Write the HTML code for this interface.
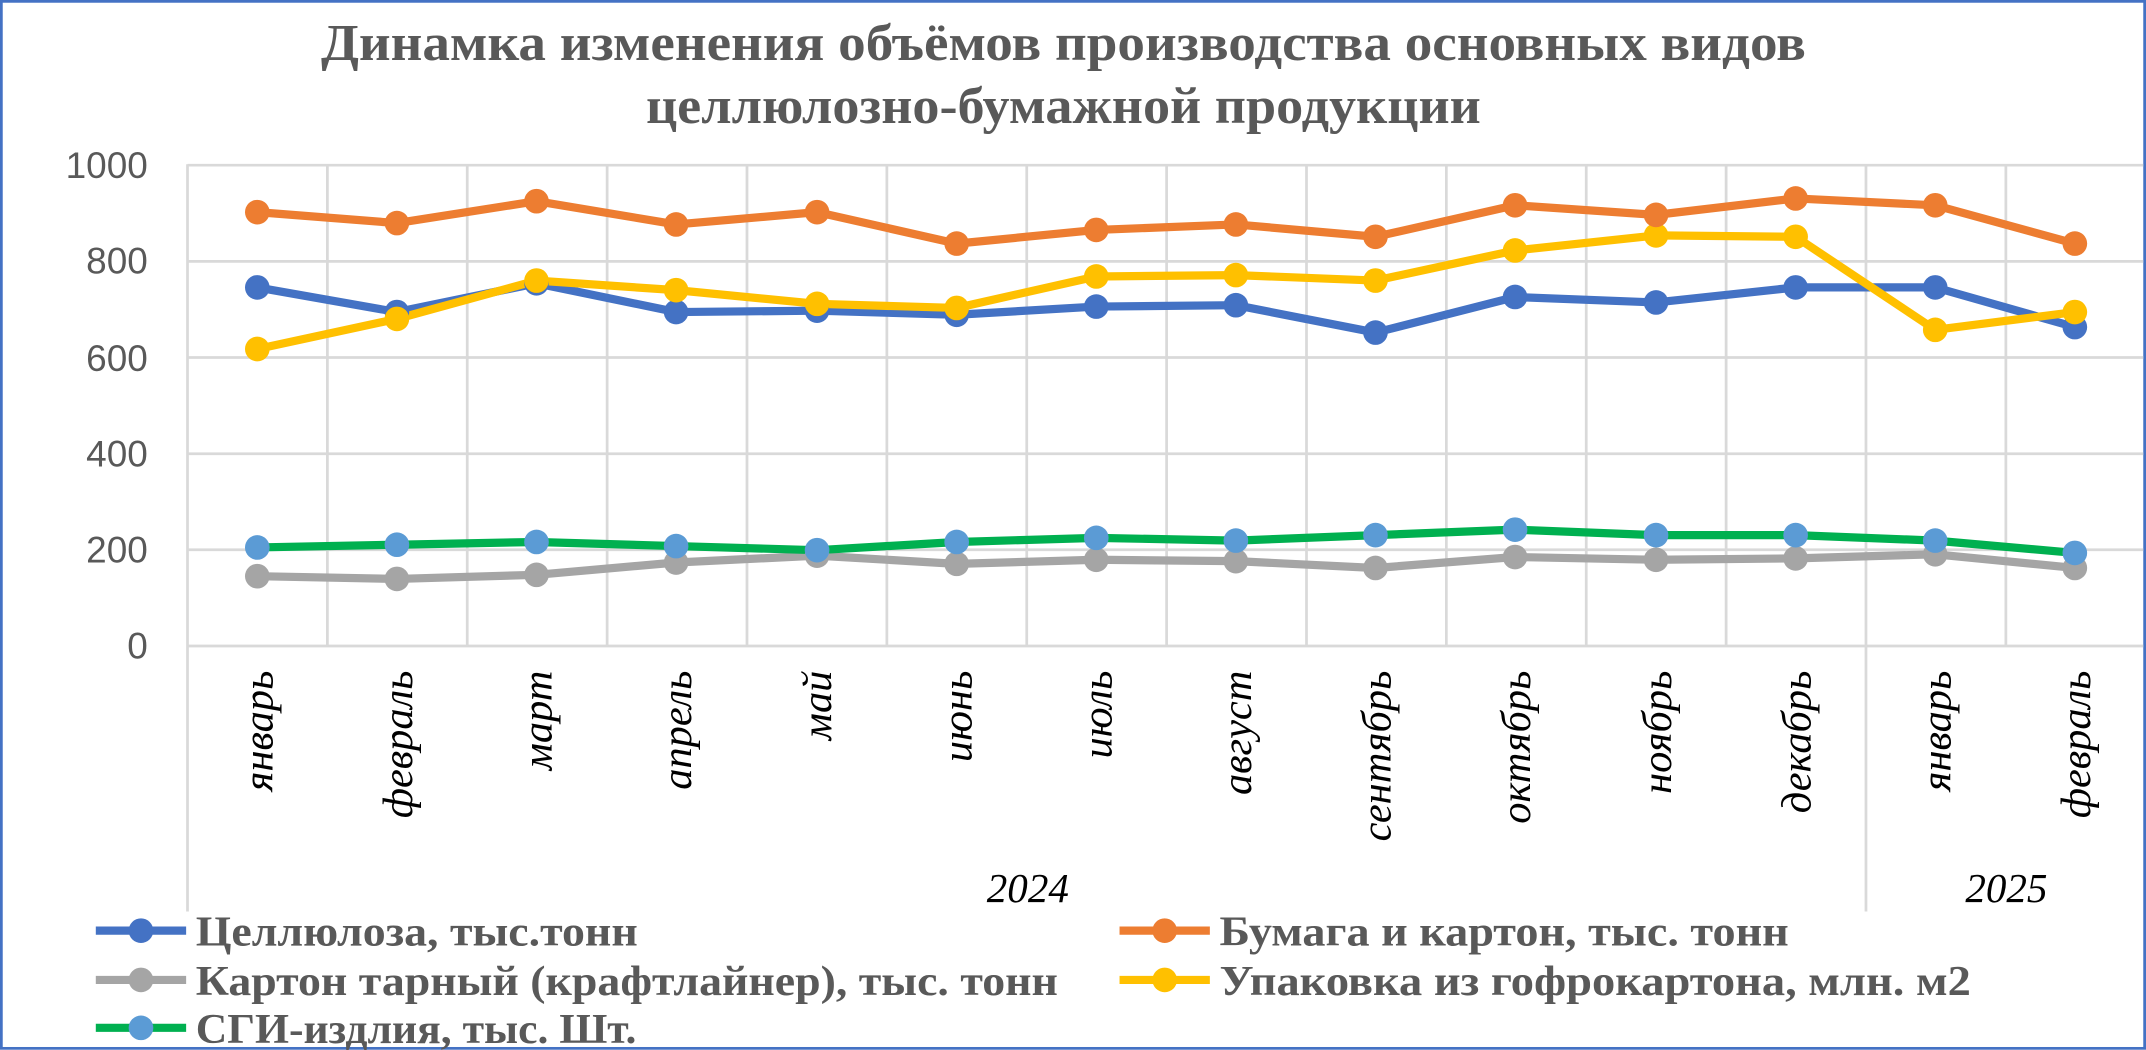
<!DOCTYPE html>
<html><head><meta charset="utf-8"><style>
html,body{margin:0;padding:0;background:#fff;}
svg{display:block;}
</style></head><body>
<svg width="2146" height="1050" viewBox="0 0 1568 767.2" preserveAspectRatio="none" xmlns="http://www.w3.org/2000/svg">
<rect x="1" y="1" width="1566" height="765" fill="#fff" stroke="#4472C4" stroke-width="2"/>
<g font-family="Liberation Serif, serif" font-weight="bold" font-size="38" fill="#595959" text-anchor="middle">
<text x="777" y="44" textLength="1085" lengthAdjust="spacingAndGlyphs">Динамка изменения объёмов производства основных видов</text>
<text x="777" y="90" textLength="610" lengthAdjust="spacingAndGlyphs">целлюлозно-бумажной продукции</text>
</g>
<g stroke="#d9d9d9" stroke-width="2">
<line x1="137" y1="120.7" x2="1566" y2="120.7"/>
<line x1="137" y1="191" x2="1566" y2="191"/>
<line x1="137" y1="261.2" x2="1566" y2="261.2"/>
<line x1="137" y1="331.5" x2="1566" y2="331.5"/>
<line x1="137" y1="401.7" x2="1566" y2="401.7"/>
<line x1="137" y1="472" x2="1566" y2="472"/>
<line x1="137" y1="120" x2="137" y2="666"/>
<line x1="239.2" y1="120" x2="239.2" y2="472"/>
<line x1="341.4" y1="120" x2="341.4" y2="472"/>
<line x1="443.6" y1="120" x2="443.6" y2="472"/>
<line x1="545.8" y1="120" x2="545.8" y2="472"/>
<line x1="648" y1="120" x2="648" y2="472"/>
<line x1="750.2" y1="120" x2="750.2" y2="472"/>
<line x1="852.4" y1="120" x2="852.4" y2="472"/>
<line x1="954.6" y1="120" x2="954.6" y2="472"/>
<line x1="1056.8" y1="120" x2="1056.8" y2="472"/>
<line x1="1159" y1="120" x2="1159" y2="472"/>
<line x1="1261.2" y1="120" x2="1261.2" y2="472"/>
<line x1="1363.4" y1="120" x2="1363.4" y2="666"/>
<line x1="1465.6" y1="120" x2="1465.6" y2="472"/>
</g>
<g font-family="Liberation Sans, sans-serif" font-size="27" fill="#595959" text-anchor="end">
<text x="108" y="130">1000</text>
<text x="108" y="200">800</text>
<text x="108" y="271">600</text>
<text x="108" y="341">400</text>
<text x="108" y="411">200</text>
<text x="108" y="481">0</text>
</g>
<g font-family="Liberation Serif, serif" font-style="italic" font-size="31" fill="#000" text-anchor="end">
<text transform="translate(199,490) rotate(-90)">январь</text>
<text transform="translate(301,490) rotate(-90)">февраль</text>
<text transform="translate(403,490) rotate(-90)">март</text>
<text transform="translate(505,490) rotate(-90)">апрель</text>
<text transform="translate(607,490) rotate(-90)">май</text>
<text transform="translate(710,490) rotate(-90)">июнь</text>
<text transform="translate(812,490) rotate(-90)">июль</text>
<text transform="translate(914,490) rotate(-90)">август</text>
<text transform="translate(1016,490) rotate(-90)">сентябрь</text>
<text transform="translate(1118,490) rotate(-90)">октябрь</text>
<text transform="translate(1221,490) rotate(-90)">ноябрь</text>
<text transform="translate(1323,490) rotate(-90)">декабрь</text>
<text transform="translate(1425,490) rotate(-90)">январь</text>
<text transform="translate(1527,490) rotate(-90)">февраль</text>
</g>
<g font-family="Liberation Serif, serif" font-style="italic" font-size="30" fill="#000" text-anchor="middle">
<text x="751" y="659">2024</text>
<text x="1466" y="659">2025</text>
</g>
<g fill="none" stroke-width="6" stroke-linejoin="round">
<polyline stroke="#A5A5A5" points="188,421 290,423 392,420 494,411 597,406 699,412 801,409 903,410 1005,415 1107,407 1210,409 1312,408 1414,405 1516,415"/>
<polyline stroke="#00B050" points="188,400 290,398 392,396 494,399 597,402 699,396 801,393 903,395 1005,391 1107,387 1210,391 1312,391 1414,395 1516,404"/>
<polyline stroke="#4472C4" points="188,210 290,228 392,207 494,228 597,227 699,230 801,224 903,223 1005,243 1107,217 1210,221 1312,210 1414,210 1516,239"/>
<polyline stroke="#FFC000" points="188,255 290,233 392,205 494,212 597,222 699,225 801,202 903,201 1005,205 1107,183 1210,172 1312,173 1414,241 1516,228"/>
<polyline stroke="#ED7D31" points="188,155 290,163 392,147 494,164 597,155 699,178 801,168 903,164 1005,173 1107,150 1210,157 1312,145 1414,150 1516,178"/>
</g>
<g fill="#A5A5A5"><circle cx="188" cy="421" r="9"/><circle cx="290" cy="423" r="9"/><circle cx="392" cy="420" r="9"/><circle cx="494" cy="411" r="9"/><circle cx="597" cy="406" r="9"/><circle cx="699" cy="412" r="9"/><circle cx="801" cy="409" r="9"/><circle cx="903" cy="410" r="9"/><circle cx="1005" cy="415" r="9"/><circle cx="1107" cy="407" r="9"/><circle cx="1210" cy="409" r="9"/><circle cx="1312" cy="408" r="9"/><circle cx="1414" cy="405" r="9"/><circle cx="1516" cy="415" r="9"/></g>
<g fill="#5B9BD5"><circle cx="188" cy="400" r="9"/><circle cx="290" cy="398" r="9"/><circle cx="392" cy="396" r="9"/><circle cx="494" cy="399" r="9"/><circle cx="597" cy="402" r="9"/><circle cx="699" cy="396" r="9"/><circle cx="801" cy="393" r="9"/><circle cx="903" cy="395" r="9"/><circle cx="1005" cy="391" r="9"/><circle cx="1107" cy="387" r="9"/><circle cx="1210" cy="391" r="9"/><circle cx="1312" cy="391" r="9"/><circle cx="1414" cy="395" r="9"/><circle cx="1516" cy="404" r="9"/></g>
<g fill="#4472C4"><circle cx="188" cy="210" r="9"/><circle cx="290" cy="228" r="9"/><circle cx="392" cy="207" r="9"/><circle cx="494" cy="228" r="9"/><circle cx="597" cy="227" r="9"/><circle cx="699" cy="230" r="9"/><circle cx="801" cy="224" r="9"/><circle cx="903" cy="223" r="9"/><circle cx="1005" cy="243" r="9"/><circle cx="1107" cy="217" r="9"/><circle cx="1210" cy="221" r="9"/><circle cx="1312" cy="210" r="9"/><circle cx="1414" cy="210" r="9"/><circle cx="1516" cy="239" r="9"/></g>
<g fill="#FFC000"><circle cx="188" cy="255" r="9"/><circle cx="290" cy="233" r="9"/><circle cx="392" cy="205" r="9"/><circle cx="494" cy="212" r="9"/><circle cx="597" cy="222" r="9"/><circle cx="699" cy="225" r="9"/><circle cx="801" cy="202" r="9"/><circle cx="903" cy="201" r="9"/><circle cx="1005" cy="205" r="9"/><circle cx="1107" cy="183" r="9"/><circle cx="1210" cy="172" r="9"/><circle cx="1312" cy="173" r="9"/><circle cx="1414" cy="241" r="9"/><circle cx="1516" cy="228" r="9"/></g>
<g fill="#ED7D31"><circle cx="188" cy="155" r="9"/><circle cx="290" cy="163" r="9"/><circle cx="392" cy="147" r="9"/><circle cx="494" cy="164" r="9"/><circle cx="597" cy="155" r="9"/><circle cx="699" cy="178" r="9"/><circle cx="801" cy="168" r="9"/><circle cx="903" cy="164" r="9"/><circle cx="1005" cy="173" r="9"/><circle cx="1107" cy="150" r="9"/><circle cx="1210" cy="157" r="9"/><circle cx="1312" cy="145" r="9"/><circle cx="1414" cy="150" r="9"/><circle cx="1516" cy="178" r="9"/></g>
<g stroke-width="6">
<line x1="70" y1="680" x2="136" y2="680" stroke="#4472C4"/><circle cx="103" cy="680" r="9" fill="#4472C4"/>
<line x1="818" y1="680" x2="884" y2="680" stroke="#ED7D31"/><circle cx="851" cy="680" r="9" fill="#ED7D31"/>
<line x1="70" y1="716" x2="136" y2="716" stroke="#A5A5A5"/><circle cx="103" cy="716" r="9" fill="#A5A5A5"/>
<line x1="818" y1="716" x2="884" y2="716" stroke="#FFC000"/><circle cx="851" cy="716" r="9" fill="#FFC000"/>
<line x1="70" y1="751" x2="136" y2="751" stroke="#00B050"/><circle cx="103" cy="751" r="9" fill="#5B9BD5"/>
</g>
<g font-family="Liberation Serif, serif" font-weight="bold" font-size="31" fill="#595959">
<text x="143" y="691" textLength="323" lengthAdjust="spacingAndGlyphs">Целлюлоза, тыс.тонн</text>
<text x="891" y="691" textLength="416" lengthAdjust="spacingAndGlyphs">Бумага и картон, тыс. тонн</text>
<text x="143" y="727" textLength="630" lengthAdjust="spacingAndGlyphs">Картон тарный (крафтлайнер), тыс. тонн</text>
<text x="891" y="727" textLength="549" lengthAdjust="spacingAndGlyphs">Упаковка из гофрокартона, млн. м2</text>
<text x="143" y="762" textLength="322" lengthAdjust="spacingAndGlyphs">СГИ-издлия, тыс. Шт.</text>
</g>
</svg>
</body></html>
